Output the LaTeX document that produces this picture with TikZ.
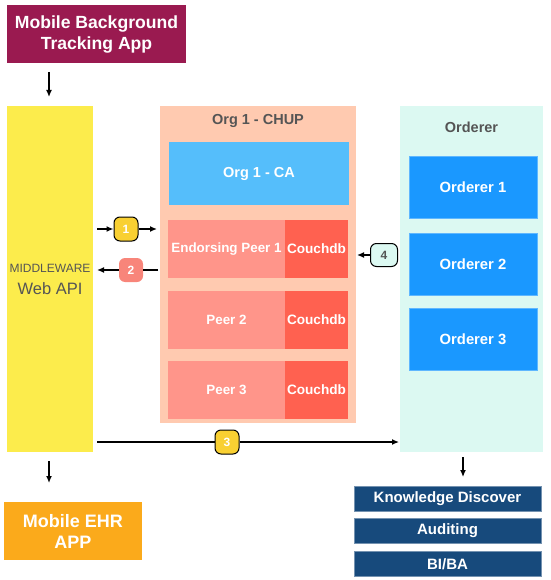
\documentclass[tikz,border=0pt]{standalone}
\usepackage{fontspec}
\setmainfont{Liberation Sans}
\usetikzlibrary{arrows.meta}
\definecolor{maroon}{HTML}{9A1A50}
\definecolor{mwyellow}{HTML}{FCEC4C}
\definecolor{peach}{HTML}{FFCAB0}
\definecolor{cablue}{HTML}{55BEFB}
\definecolor{salmon}{HTML}{FF958A}
\definecolor{couch}{HTML}{FF6150}
\definecolor{mint}{HTML}{DCF9F2}
\definecolor{ordblue}{HTML}{1A98FF}
\definecolor{darkblue}{HTML}{174A7C}
\definecolor{ehr}{HTML}{FBAA1B}
\definecolor{badgey}{HTML}{F9D032}
\definecolor{badges}{HTML}{F8857A}
\definecolor{graytext}{HTML}{555555}
\tikzset{
  box/.style={inner sep=0pt, outer sep=0pt, align=center, text=white, font=\bfseries},
  arr/.style={-{Latex[length=7pt,width=6pt]}, line width=1.3pt, black},
  badge/.style={rounded corners=6pt, minimum width=24pt, minimum height=24pt, inner sep=0pt, font=\bfseries\fontsize{12}{14}\selectfont, text=white},
}
\begin{document}
\begin{tikzpicture}[x=1pt,y=-1pt]
\useasboundingbox (0,0) rectangle (550,580);
% top app
\node[box, fill=maroon, minimum width=179pt, minimum height=58pt, font=\bfseries\fontsize{17.6}{21}\selectfont] (track) at (96.5,34) {Mobile Background\\Tracking App};
% middleware
\node[box, fill=mwyellow, minimum width=86pt, minimum height=346pt, text=graytext, font=\fontsize{16.5}{22}\selectfont] (mw) at (50,279) {{\fontsize{12}{22}\selectfont MIDDLEWARE}\\Web API};
% org panel
\node[box, fill=peach, minimum width=196pt, minimum height=317pt] (org) at (258,264.5) {};
\node[box, text=graytext, font=\bfseries\fontsize{14.5}{16}\selectfont] (orgt) at (258,121) {Org 1 - CHUP};
\node[box, fill=cablue, minimum width=180pt, minimum height=63pt, font=\bfseries\fontsize{14.5}{16}\selectfont] (ca) at (259,173.5) {Org 1 - CA};
\tikzset{peer/.style={box, fill=salmon, minimum width=117pt, minimum height=58pt, font=\bfseries\fontsize{13.4}{15}\selectfont},
         cdb/.style={box, fill=couch, minimum width=63pt, minimum height=58pt, font=\bfseries\fontsize{13.6}{15}\selectfont}}
\node[peer] (p1) at (226.5,249) {Endorsing Peer 1};
\node[cdb] (c1) at (316.5,249) {Couchdb};
\node[peer] (p2) at (226.5,319.5) {Peer 2};
\node[cdb] (c2) at (316.5,319.5) {Couchdb};
\node[peer] (p3) at (226.5,390) {Peer 3};
\node[cdb] (c3) at (316.5,390) {Couchdb};
% orderer panel
\node[box, fill=mint, minimum width=143pt, minimum height=346pt] (ord) at (471.5,279) {};
\node[box, text=graytext, font=\bfseries\fontsize{14.5}{16}\selectfont] (ordt) at (471.5,127.5) {Orderer};
\tikzset{obox/.style={box, fill=ordblue, draw=ordblue!70!white, line width=0.4pt, minimum width=128pt, minimum height=62pt, font=\bfseries\fontsize{14.8}{17}\selectfont}}
\node[obox] (o1) at (473,187) {Orderer 1};
\node[obox] (o2) at (473,264) {Orderer 2};
\node[obox] (o3) at (473,339) {Orderer 3};
% outputs
\tikzset{dbox/.style={box, fill=darkblue, draw=darkblue!60!white, line width=0.4pt, minimum width=187pt, minimum height=25pt, font=\bfseries\fontsize{15}{17}\selectfont}}
\node[dbox] (kd) at (447.5,498.5) {Knowledge Discover};
\node[dbox] (aud) at (447.5,530.5) {Auditing};
\node[dbox] (bi) at (447.5,564) {BI/BA};
\node[box, fill=ehr, minimum width=138pt, minimum height=58pt, font=\bfseries\fontsize{18}{21}\selectfont] (ehrapp) at (73,531) {Mobile EHR\\APP};
% vertical arrows
\draw[arr] ([yshift=-9pt]track.south -| 49,0) -- ([yshift=9pt]mw.north -| 49,0);
\draw[arr] ([yshift=-9pt]mw.south -| 49,0) -- ([yshift=19pt]ehrapp.north -| 49,0);
\draw[arr] ([yshift=-5pt]ord.south -| 463,0) -- ([yshift=9pt]kd.north -| 463,0);
% badges
\node[badge, fill=badgey, draw=black, line width=1pt] (b1) at (126,229) {1};
\node[badge, fill=badges] (b2) at (131,270) {2};
\node[badge, fill=mint, draw=black, line width=1pt, text=graytext, minimum width=27pt, minimum height=23pt] (b4) at (384,255) {4};
\node[badge, fill=badgey, draw=black, line width=1pt] (b3) at (227,442) {3};
% horizontal arrows
\draw[arr] ([xshift=4pt]mw.east |- b1) -- (b1.west);
\draw[arr] (b1.east) -- ([xshift=-3pt]org.west |- b1);
\draw[line width=1.3pt] ([xshift=-2pt]org.west |- b2) -- (b2.east);
\draw[arr] (b2.west) -- ([xshift=4pt]mw.east |- b2);
\draw[line width=1.3pt] ([xshift=-2pt]ord.west |- b4) -- (b4.east);
\draw[arr] (b4.west) -- ([xshift=1pt]org.east |- b4);
\draw[line width=1.3pt] ([xshift=4pt]mw.east |- b3) -- (b3.west);
\draw[arr] (b3.east) -- ([xshift=-1pt]ord.west |- b3);
\end{tikzpicture}
\end{document}
